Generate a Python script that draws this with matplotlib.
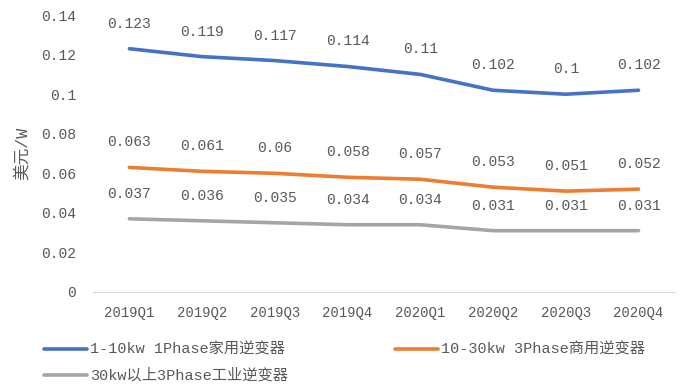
import matplotlib
matplotlib.use("Agg")
import matplotlib.pyplot as plt

plt.rcParams['font.family'] = ['Liberation Mono', 'Noto Sans CJK SC']

quarters = ["2019Q1", "2019Q2", "2019Q3", "2019Q4", "2020Q1", "2020Q2", "2020Q3", "2020Q4"]
residential = [0.123, 0.119, 0.117, 0.114, 0.11, 0.102, 0.1, 0.102]
commercial = [0.063, 0.061, 0.06, 0.058, 0.057, 0.053, 0.051, 0.052]
industrial = [0.037, 0.036, 0.035, 0.034, 0.034, 0.031, 0.031, 0.031]
series_names = ["1-10kw 1Phase家用逆变器", "10-30kw 3Phase商用逆变器", "30kw以上3Phase工业逆变器"]
colors = ["#4472C4", "#ED7D31", "#A5A5A5"]
yticks = [0, 0.02, 0.04, 0.06, 0.08, 0.1, 0.12, 0.14]

text_color = "#595959"

fig = plt.figure(figsize=(6.81, 3.87), dpi=100)
ax = fig.add_axes([0.1366, 0.2455, 0.8544, 0.7155])

x = list(range(len(quarters)))
handles = []
for vals, name, c in zip([residential, commercial, industrial], series_names, colors):
    h, = ax.plot(x, vals, color=c, linewidth=2.6, solid_capstyle="round", label=name)
    handles.append(h)
    for xi, v in zip(x, vals):
        ax.annotate(f"{v:g}", (xi, v), xytext=(0, 13), textcoords="offset points",
                    ha="center", va="bottom", fontsize=10.5, color=text_color)

ax.set_xlim(-0.5, len(quarters) - 0.5)
ax.set_ylim(0, 0.14)
ax.set_yticks(yticks)
ax.set_yticklabels([f"{t:g}" for t in yticks], fontsize=10.5, color=text_color)
ax.set_xticks(x)
ax.set_xticklabels(quarters, fontsize=10, color=text_color)
ax.tick_params(axis="both", length=0)
ax.tick_params(axis="x", pad=10)
ax.tick_params(axis="y", pad=12)
for side in ["top", "right", "left"]:
    ax.spines[side].set_visible(False)
ax.spines["bottom"].set_color("#D9D9D9")
ax.spines["bottom"].set_linewidth(0.8)

ax.set_ylabel("美元/W", fontsize=12, color=text_color, labelpad=8)

# column-wise fill: first column holds residential and industrial, second commercial
leg_handles = [handles[0], handles[2], handles[1]]
leg = fig.legend(handles=leg_handles, loc="lower left", bbox_to_anchor=(0.045, -0.025),
                 ncol=2, frameon=False, fontsize=11, handlelength=2.8,
                 handletextpad=0.2, columnspacing=7.0, labelspacing=0.75)
for t in leg.get_texts():
    t.set_color(text_color)

fig.savefig("out.png", dpi=100)
